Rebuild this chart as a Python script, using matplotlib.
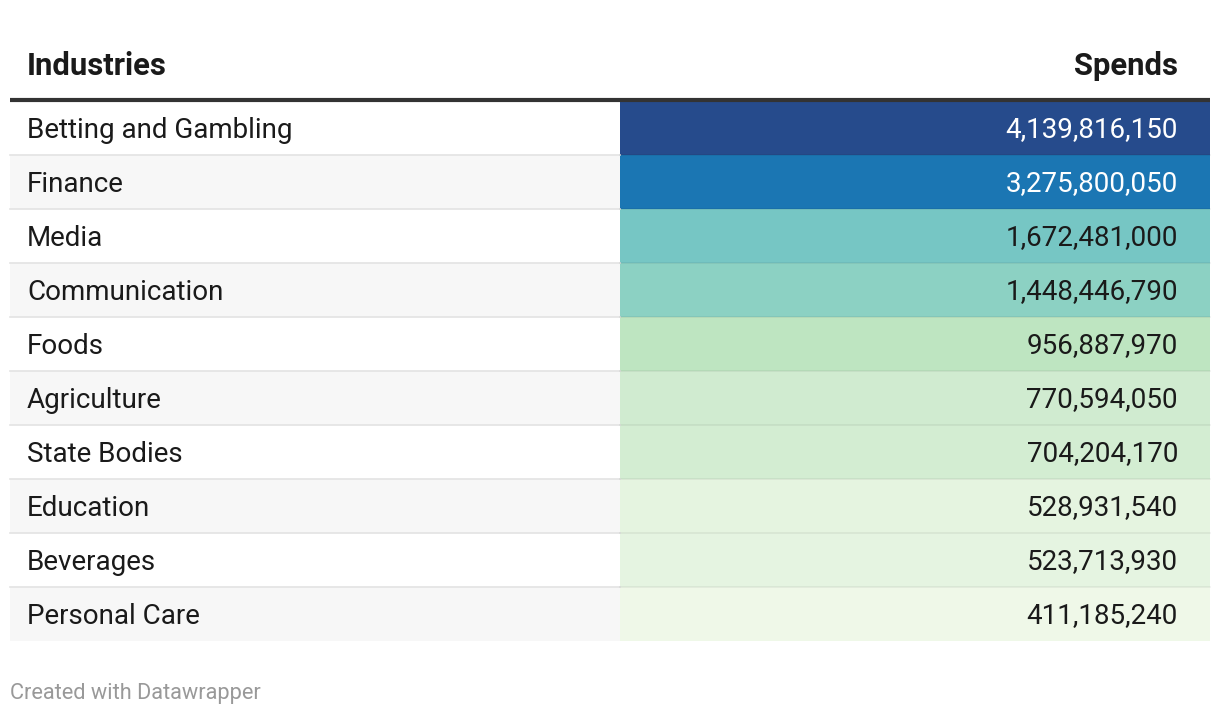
import matplotlib
matplotlib.use("Agg")
from matplotlib import pyplot as plt

industries = ["Betting and Gambling", "Finance", "Media", "Communication", "Foods",
              "Agriculture", "State Bodies", "Education", "Beverages", "Personal Care"]
spends = [4139816150, 3275800050, 1672481000, 1448446790, 956887970,
          770594050, 704204170, 528931540, 523713930, 411185240]
cell_colors = ["#264b8c", "#1b76b3", "#76c6c4", "#8cd1c3", "#bee5c1",
               "#d0ebd0", "#d3edd2", "#e5f4e0", "#e5f4e1", "#eff8e8"]

plt.rcParams["font.family"] = ["Roboto", "DejaVu Sans"]

fig = plt.figure(figsize=(12.2, 7.16), dpi=100)
ax = fig.add_axes([0, 0, 1, 1])
ax.set_xlim(0, 1220)
ax.set_ylim(716, 0)
ax.axis("off")

top = 101
row_h = 54
left, mid, right = 10, 620, 1210
rows = range(len(industries))
centers = [top + row_h * (i + 0.5) for i in rows]

# striped background for the label column
stripe = ["white" if i % 2 == 0 else "#f7f7f7" for i in rows]
ax.barh(centers, mid - left, left=left, height=row_h, color=stripe, edgecolor="none")
# colour scale cells
ax.barh(centers, right - mid, left=mid, height=row_h, color=cell_colors, edgecolor="none")

# row separators
for i in rows[1:]:
    y = top + row_h * i
    ax.plot([left, mid], [y, y], color="#e3e3e3", lw=1.2)
    ax.plot([mid, right], [y, y], color="black", alpha=0.06, lw=1.2)

# header
ax.text(27, 66, "Industries", fontsize=22.3, fontweight="bold", color="#1a1a1a", va="center")
ax.text(1178, 66, "Spends", fontsize=22.3, fontweight="bold", color="#1a1a1a", va="center", ha="right")
ax.plot([left, right], [99.5, 99.5], color="#333333", lw=3, solid_capstyle="butt")

for i, (name, val) in enumerate(zip(industries, spends)):
    ax.text(27, centers[i] + 2, name, fontsize=20, color="#1a1a1a", va="center")
    tc = "white" if i < 2 else "#1a1a1a"
    ax.text(1178, centers[i] + 2, f"{val:,}", fontsize=20, color=tc, va="center", ha="right")

ax.text(10, 693, "Created with Datawrapper", fontsize=15.7, color="#999999", va="center")

fig.savefig("out.png", dpi=100)
